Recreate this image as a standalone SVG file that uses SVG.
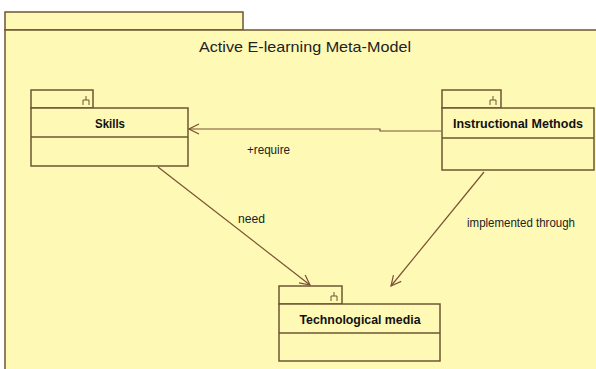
<svg xmlns="http://www.w3.org/2000/svg" width="596" height="369" viewBox="0 0 596 369">
<defs>
<style>
.pkg{fill:#fff9b6;stroke:#6e5532;stroke-width:1.5}
.box{fill:#fff9b6;stroke:#6e5532;stroke-width:1.5}
.icon{fill:none;stroke:#6e5532;stroke-width:1}
.name{font-family:"Liberation Sans",Arial,sans-serif;font-weight:bold;font-size:13px;fill:#111;text-anchor:middle}
.lbl{font-family:"Liberation Sans",Arial,sans-serif;font-size:12px;fill:#222}
.title{font-family:"Liberation Sans",Arial,sans-serif;font-size:15px;fill:#222}
.conn{fill:none;stroke:#7a5232;stroke-width:1.2}
</style>
<marker id="open" viewBox="0 0 12 12" refX="11" refY="6" markerWidth="12" markerHeight="12" markerUnits="userSpaceOnUse" orient="auto">
<path d="M1,1 L11,6 L1,11" fill="none" stroke="#7a5232" stroke-width="1.2"/>
</marker>
</defs>
<rect width="596" height="369" fill="#ffffff"/>
<g id="package">
<rect class="pkg" x="5" y="12" width="238" height="18"/>
<path class="pkg" d="M597,30 H5 V370 H597 Z"/>
<text class="title" x="199" y="52" textLength="212" lengthAdjust="spacingAndGlyphs">Active E-learning Meta-Model</text>
</g>
<g id="connectors">
<polyline class="conn" points="441,131 380,131 380,129 250,129 189,129" marker-end="url(#open)"/>
<line class="conn" x1="158" y1="167" x2="310" y2="285" marker-end="url(#open)"/>
<line class="conn" x1="484" y1="172" x2="391" y2="286" marker-end="url(#open)"/>
<text class="lbl" x="247" y="154" textLength="43" lengthAdjust="spacingAndGlyphs">+require</text>
<text class="lbl" x="238" y="223" textLength="27" lengthAdjust="spacingAndGlyphs">need</text>
<text class="lbl" x="467" y="227" textLength="108" lengthAdjust="spacingAndGlyphs">implemented through</text>
</g>
<g id="skills">
<rect class="box" x="31" y="90" width="62" height="18"/>
<path class="icon" d="M86,96 V100 M83,105 V100 H89 V105"/>
<rect class="box" x="31" y="108" width="157" height="58"/>
<line class="box" x1="31" y1="137" x2="188" y2="137"/>
<text class="name" x="110" y="128" textLength="30" lengthAdjust="spacingAndGlyphs">Skills</text>
</g>
<g id="instructional-methods">
<rect class="box" x="442" y="90" width="59" height="18"/>
<path class="icon" d="M493,96 V100 M490,105 V100 H496 V105"/>
<rect class="box" x="442" y="108" width="152" height="62"/>
<line class="box" x1="442" y1="138" x2="594" y2="138"/>
<text class="name" x="518" y="128" textLength="130" lengthAdjust="spacingAndGlyphs">Instructional Methods</text>
</g>
<g id="technological-media">
<rect class="box" x="279" y="286" width="63" height="18"/>
<path class="icon" d="M334,292 V296 M331,301 V296 H337 V301"/>
<rect class="box" x="279" y="304" width="161" height="57"/>
<line class="box" x1="279" y1="333" x2="440" y2="333"/>
<text class="name" x="360" y="324" textLength="121" lengthAdjust="spacingAndGlyphs">Technological media</text>
</g>
</svg>
